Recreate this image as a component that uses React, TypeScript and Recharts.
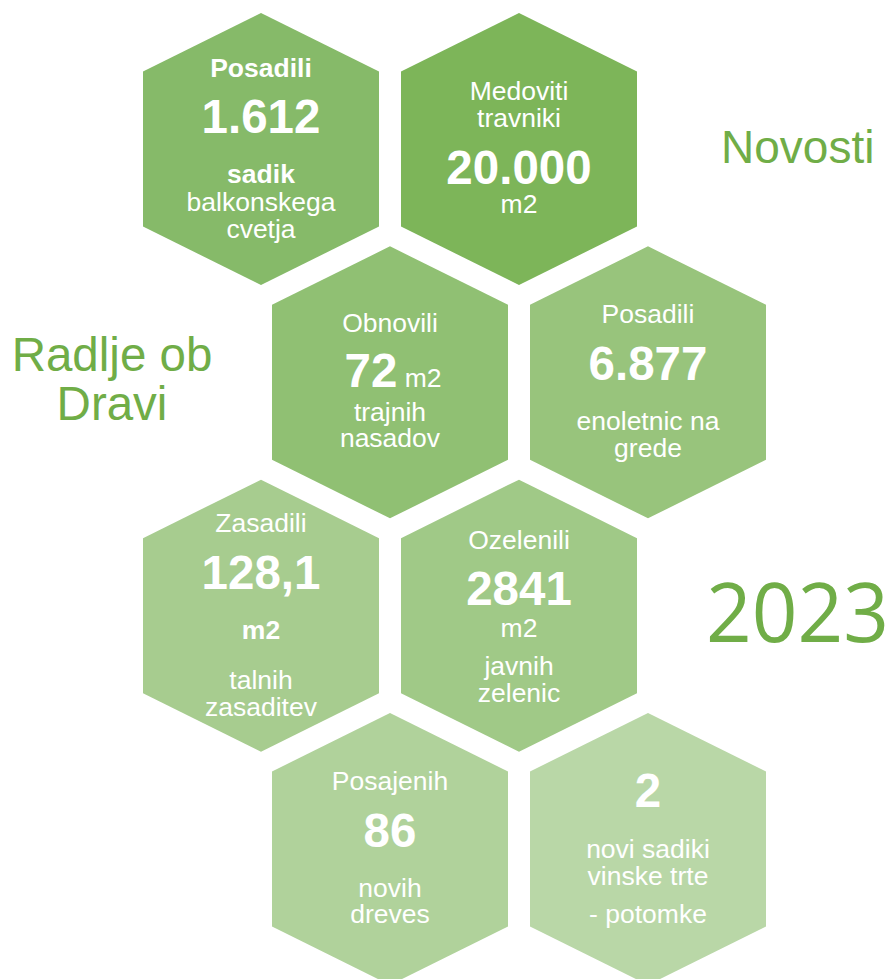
import React from 'react';
import { ScatterChart, Scatter, XAxis, YAxis, Customized } from 'recharts';

// ---- content ----
const values = ['1.612', '20.000', '72', '6.877', '128,1', '2841', '86', '2'];
const units = ['sadik', 'm2', 'm2', '', 'm2', 'm2', '', ''];
const topLabels: string[][] = [
  ['Posadili'],
  ['Medoviti', 'travniki'],
  ['Obnovili'],
  ['Posadili'],
  ['Zasadili'],
  ['Ozelenili'],
  ['Posajenih'],
  [],
];
const bottomLabels: string[][] = [
  ['balkonskega', 'cvetja'],
  [],
  ['trajnih', 'nasadov'],
  ['enoletnic na', 'grede'],
  ['talnih', 'zasaditev'],
  ['javnih', 'zelenic'],
  ['novih', 'dreves'],
  ['novi sadiki', 'vinske trte', '- potomke'],
];
const titleTopRight = 'Novosti';
const titleLeft = ['Radlje ob', 'Dravi'];
const yearLabel = '2023';

// ---- styles / layout ----
const fills = ['#86ba69', '#7db559', '#90c073', '#98c47c', '#a7cc8f', '#a0c987', '#b0d29b', '#b9d7a7'];
const GREEN = '#70ad47';
const FONT = '"Liberation Sans", Arial, sans-serif';
type Layout = { top: number[]; topBold?: boolean; value: number; unit?: number | 'inline'; unitBold?: boolean; bottom: number[] };
const layouts: Layout[] = [
  { top: [-72], topBold: true, value: -16, unit: 34, unitBold: true, bottom: [62, 89] },
  { top: [-49, -22], value: 35, unit: 64, bottom: [] },
  { top: [-50], value: 5, unit: 'inline', bottom: [39, 65] },
  { top: [-59], value: -2, bottom: [48, 75] },
  { top: [-84], value: -27, unit: 23, unitBold: true, bottom: [73, 100] },
  { top: [-67], value: -11, unit: 21, bottom: [59, 86] },
  { top: [-59], value: -2, bottom: [48, 74] },
  { top: [], value: -42, bottom: [9, 36, 74] },
];

const W = 893;
const H = 979;
// hex grid: index -> (col, row)
const data = values.map((v, i) => {
  const row = Math.floor(i / 2);
  const col = (i % 2) * 2 + (row % 2);
  return { col, row, idx: i };
});

const X0 = 261, XSTEP = 129;
const Y0 = 149, YSTEP = 233.33;
const xDomain = [-X0 / XSTEP, (W - X0) / XSTEP];
const yDomain = [-Y0 / YSTEP, (H - Y0) / YSTEP];

const HW = 118, HH = 136, HS = 77.5;
const TXT = 26.5;
const BIG = 47.5;

const Hex = (props: any) => {
  const { cx, cy, payload } = props;
  if (cx == null || cy == null) return null;
  const i = payload.idx;
  const L = layouts[i];
  const pts = [
    [cx, cy - HH], [cx + HW, cy - HS], [cx + HW, cy + HS],
    [cx, cy + HH], [cx - HW, cy + HS], [cx - HW, cy - HS],
  ].map((p) => p.join(',')).join(' ');
  const common = { textAnchor: 'middle' as const, fill: '#ffffff', fontFamily: FONT };
  return (
    <g>
      <polygon points={pts} fill={fills[i]} />
      {topLabels[i].map((t, k) => (
        <text key={'t' + k} x={cx} y={cy + L.top[k]} fontSize={TXT} fontWeight={L.topBold ? 'bold' : 'normal'} {...common}>{t}</text>
      ))}
      {L.unit === 'inline' ? (
        <text x={cx + 3} y={cy + L.value} {...common}>
          <tspan fontSize={BIG} fontWeight="bold">{values[i]}</tspan>
          <tspan fontSize={TXT}>{' ' + units[i]}</tspan>
        </text>
      ) : (
        <text x={cx} y={cy + L.value} fontSize={BIG} fontWeight="bold" {...common}>{values[i]}</text>
      )}
      {typeof L.unit === 'number' && units[i] ? (
        <text x={cx} y={cy + L.unit} fontSize={TXT} fontWeight={L.unitBold ? 'bold' : 'normal'} {...common}>{units[i]}</text>
      ) : null}
      {bottomLabels[i].map((t, k) => (
        <text key={'b' + k} x={cx} y={cy + L.bottom[k]} fontSize={TXT} {...common}>{t}</text>
      ))}
    </g>
  );
};

const Titles = () => (
  <g>
    <text x={721} y={163} fontSize={46} fill={GREEN} fontFamily={FONT}>{titleTopRight}</text>
    {titleLeft.map((t, k) => (
      <text key={k} x={112} y={371 + k * 49} fontSize={47.5} fill={GREEN} fontFamily={FONT} textAnchor="middle">{t}</text>
    ))}
    <text x={706} y={642} fontSize={82} fill={GREEN} fontFamily='"Open Sans", sans-serif' textLength={183} lengthAdjust="spacingAndGlyphs">{yearLabel}</text>
  </g>
);

export default function App() {
  return (
    <div style={{ position: 'absolute', left: 0, top: 0, width: W, height: H, background: '#fff' }}>
      <ScatterChart width={W} height={H} margin={{ top: 0, right: 0, bottom: 0, left: 0 }}>
        <XAxis type="number" dataKey="col" domain={xDomain} allowDataOverflow hide />
        <YAxis type="number" dataKey="row" domain={yDomain} allowDataOverflow reversed hide />
        <Scatter data={data} shape={(p: any) => <Hex {...p} />} isAnimationActive={false} />
        <Customized component={Titles} />
      </ScatterChart>
    </div>
  );
}
